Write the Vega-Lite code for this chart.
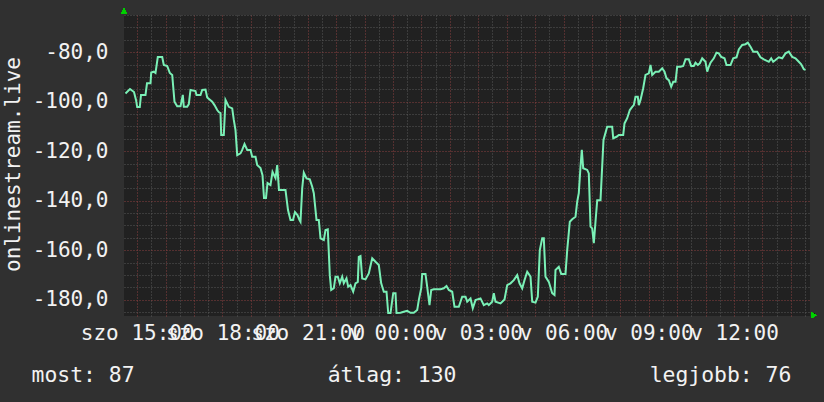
{
  "$schema": "https://vega.github.io/schema/vega-lite/v6.json",
  "width": 686,
  "height": 301,
  "autosize": "none",
  "padding": {"left": 124, "top": 15, "right": 14, "bottom": 86},
  "background": "#303030",
  "view": {"fill": "#212121", "stroke": null},
  "title": {
    "text": "most: 87\u00a0\u00a0\u00a0\u00a0\u00a0\u00a0\u00a0\u00a0\u00a0\u00a0\u00a0\u00a0\u00a0\u00a0\u00a0átlag: 130\u00a0\u00a0\u00a0\u00a0\u00a0\u00a0\u00a0\u00a0\u00a0\u00a0\u00a0\u00a0\u00a0\u00a0\u00a0legjobb: 76",
    "orient": "bottom",
    "anchor": "start",
    "frame": "group",
    "font": "DejaVu Sans Mono",
    "fontSize": 21.4,
    "fontWeight": "normal",
    "color": "#f2f2f2",
    "baseline": "top",
    "dx": -92.5,
    "offset": 22
  },
  "resolve": {"axis": {"x": "independent", "y": "independent"}},
  "data": {"values": [
    {"hour": 14.588, "value": -96.7}, {"hour": 14.747, "value": -94.9}, {"hour": 14.817, "value": -95.5}, {"hour": 14.887, "value": -96.1},
    {"hour": 14.958, "value": -99.3}, {"hour": 15.0, "value": -102.2}, {"hour": 15.091, "value": -102.2}, {"hour": 15.134, "value": -97.3},
    {"hour": 15.292, "value": -97.3}, {"hour": 15.345, "value": -92.6}, {"hour": 15.468, "value": -92.6}, {"hour": 15.493, "value": -88.2},
    {"hour": 15.584, "value": -87.9}, {"hour": 15.644, "value": -88.4}, {"hour": 15.725, "value": -82.0}, {"hour": 15.88, "value": -82.0},
    {"hour": 15.936, "value": -85.2}, {"hour": 16.056, "value": -85.6}, {"hour": 16.147, "value": -88.4}, {"hour": 16.232, "value": -89.2},
    {"hour": 16.312, "value": -100.0}, {"hour": 16.407, "value": -101.9}, {"hour": 16.524, "value": -101.9}, {"hour": 16.605, "value": -97.3},
    {"hour": 16.64, "value": -102.1}, {"hour": 16.759, "value": -102.1}, {"hour": 16.816, "value": -101.0}, {"hour": 16.875, "value": -95.3},
    {"hour": 17.051, "value": -95.7}, {"hour": 17.087, "value": -97.3}, {"hour": 17.227, "value": -97.3}, {"hour": 17.287, "value": -95.3},
    {"hour": 17.403, "value": -95.1}, {"hour": 17.463, "value": -98.3}, {"hour": 17.639, "value": -100.0}, {"hour": 17.72, "value": -101.4},
    {"hour": 17.815, "value": -103.4}, {"hour": 17.871, "value": -104.2}, {"hour": 17.931, "value": -104.6}, {"hour": 17.956, "value": -113.5},
    {"hour": 18.047, "value": -113.5}, {"hour": 18.107, "value": -99.3}, {"hour": 18.167, "value": -100.7}, {"hour": 18.223, "value": -102.1},
    {"hour": 18.343, "value": -102.7}, {"hour": 18.399, "value": -107.4}, {"hour": 18.459, "value": -111.5}, {"hour": 18.519, "value": -121.6},
    {"hour": 18.635, "value": -120.9}, {"hour": 18.695, "value": -119.5}, {"hour": 18.776, "value": -117.1}, {"hour": 18.871, "value": -119.5},
    {"hour": 18.987, "value": -119.5}, {"hour": 19.046, "value": -122.3}, {"hour": 19.163, "value": -122.3}, {"hour": 19.222, "value": -125.6},
    {"hour": 19.338, "value": -126.8}, {"hour": 19.409, "value": -129.7}, {"hour": 19.462, "value": -138.9}, {"hour": 19.532, "value": -138.9},
    {"hour": 19.585, "value": -132.9}, {"hour": 19.69, "value": -133.7}, {"hour": 19.761, "value": -128.4}, {"hour": 19.866, "value": -130.9},
    {"hour": 19.926, "value": -125.6}, {"hour": 19.989, "value": -135.7}, {"hour": 20.218, "value": -135.7}, {"hour": 20.306, "value": -143.8},
    {"hour": 20.394, "value": -147.8}, {"hour": 20.482, "value": -147.8}, {"hour": 20.552, "value": -144.6}, {"hour": 20.64, "value": -145.8},
    {"hour": 20.711, "value": -147.8}, {"hour": 20.746, "value": -148.5}, {"hour": 20.806, "value": -135.0}, {"hour": 20.862, "value": -128.7},
    {"hour": 20.957, "value": -131.0}, {"hour": 21.073, "value": -131.4}, {"hour": 21.158, "value": -134.4}, {"hour": 21.214, "value": -137.0},
    {"hour": 21.309, "value": -147.8}, {"hour": 21.39, "value": -147.8}, {"hour": 21.45, "value": -155.2}, {"hour": 21.566, "value": -155.9},
    {"hour": 21.626, "value": -151.9}, {"hour": 21.706, "value": -151.6}, {"hour": 21.777, "value": -170.1}, {"hour": 21.826, "value": -176.1},
    {"hour": 21.918, "value": -175.4}, {"hour": 21.977, "value": -170.7}, {"hour": 22.058, "value": -170.7}, {"hour": 22.129, "value": -173.4},
    {"hour": 22.213, "value": -170.7}, {"hour": 22.269, "value": -173.4}, {"hour": 22.364, "value": -171.4}, {"hour": 22.424, "value": -174.8},
    {"hour": 22.505, "value": -174.1}, {"hour": 22.6, "value": -176.8}, {"hour": 22.681, "value": -173.4}, {"hour": 22.762, "value": -172.8},
    {"hour": 22.797, "value": -162.7}, {"hour": 22.857, "value": -162.4}, {"hour": 22.917, "value": -171.4}, {"hour": 23.033, "value": -171.8},
    {"hour": 23.149, "value": -169.4}, {"hour": 23.269, "value": -163.3}, {"hour": 23.385, "value": -164.7}, {"hour": 23.501, "value": -166.0},
    {"hour": 23.585, "value": -173.4}, {"hour": 23.677, "value": -176.8}, {"hour": 23.772, "value": -176.8}, {"hour": 23.832, "value": -185.4},
    {"hour": 23.913, "value": -185.4}, {"hour": 24.008, "value": -177.4}, {"hour": 24.089, "value": -177.4}, {"hour": 24.124, "value": -185.4},
    {"hour": 24.265, "value": -185.3}, {"hour": 24.381, "value": -184.9}, {"hour": 24.5, "value": -184.5}, {"hour": 24.616, "value": -185.3},
    {"hour": 24.732, "value": -185.3}, {"hour": 24.852, "value": -184.2}, {"hour": 24.908, "value": -180.2}, {"hour": 24.993, "value": -175.4},
    {"hour": 25.028, "value": -169.6}, {"hour": 25.144, "value": -169.6}, {"hour": 25.204, "value": -174.8}, {"hour": 25.285, "value": -182.2},
    {"hour": 25.345, "value": -176.1}, {"hour": 25.436, "value": -175.8}, {"hour": 25.672, "value": -175.8}, {"hour": 25.788, "value": -175.4},
    {"hour": 25.883, "value": -174.5}, {"hour": 25.964, "value": -176.1}, {"hour": 26.084, "value": -176.8}, {"hour": 26.165, "value": -182.9},
    {"hour": 26.316, "value": -182.9}, {"hour": 26.435, "value": -178.8}, {"hour": 26.552, "value": -178.8}, {"hour": 26.611, "value": -180.8},
    {"hour": 26.728, "value": -179.5}, {"hour": 26.808, "value": -183.5}, {"hour": 26.903, "value": -180.2}, {"hour": 27.079, "value": -179.5},
    {"hour": 27.196, "value": -182.2}, {"hour": 27.315, "value": -181.5}, {"hour": 27.371, "value": -182.2}, {"hour": 27.491, "value": -180.8},
    {"hour": 27.547, "value": -177.4}, {"hour": 27.607, "value": -180.8}, {"hour": 27.783, "value": -181.5}, {"hour": 27.924, "value": -179.9},
    {"hour": 28.019, "value": -174.1}, {"hour": 28.135, "value": -173.4}, {"hour": 28.251, "value": -172.1}, {"hour": 28.371, "value": -170.1},
    {"hour": 28.452, "value": -173.4}, {"hour": 28.547, "value": -175.4}, {"hour": 28.628, "value": -172.1}, {"hour": 28.723, "value": -168.7},
    {"hour": 28.839, "value": -170.7}, {"hour": 28.899, "value": -180.8}, {"hour": 29.015, "value": -181.2}, {"hour": 29.096, "value": -178.8},
    {"hour": 29.166, "value": -160.0}, {"hour": 29.25, "value": -155.2}, {"hour": 29.307, "value": -155.2}, {"hour": 29.366, "value": -170.7},
    {"hour": 29.483, "value": -172.8}, {"hour": 29.602, "value": -177.4}, {"hour": 29.683, "value": -178.1}, {"hour": 29.718, "value": -168.0},
    {"hour": 29.834, "value": -166.7}, {"hour": 29.919, "value": -169.6}, {"hour": 30.07, "value": -169.6}, {"hour": 30.13, "value": -160.0},
    {"hour": 30.222, "value": -148.5}, {"hour": 30.306, "value": -147.5}, {"hour": 30.422, "value": -146.5}, {"hour": 30.482, "value": -140.4},
    {"hour": 30.538, "value": -137.0}, {"hour": 30.598, "value": -126.3}, {"hour": 30.644, "value": -119.5}, {"hour": 30.693, "value": -126.9},
    {"hour": 30.834, "value": -127.6}, {"hour": 30.89, "value": -129.0}, {"hour": 30.95, "value": -150.5}, {"hour": 31.01, "value": -151.2},
    {"hour": 31.066, "value": -157.2}, {"hour": 31.126, "value": -148.5}, {"hour": 31.186, "value": -139.8}, {"hour": 31.302, "value": -139.8},
    {"hour": 31.407, "value": -115.5}, {"hour": 31.537, "value": -110.1}, {"hour": 31.713, "value": -110.1}, {"hour": 31.749, "value": -114.8},
    {"hour": 31.865, "value": -114.2}, {"hour": 31.946, "value": -113.5}, {"hour": 32.1, "value": -113.5}, {"hour": 32.146, "value": -108.8},
    {"hour": 32.241, "value": -106.7}, {"hour": 32.333, "value": -103.4}, {"hour": 32.417, "value": -102.1}, {"hour": 32.473, "value": -101.4},
    {"hour": 32.533, "value": -98.0}, {"hour": 32.614, "value": -98.0}, {"hour": 32.649, "value": -101.4}, {"hour": 32.709, "value": -99.3},
    {"hour": 32.804, "value": -94.6}, {"hour": 32.885, "value": -89.2}, {"hour": 33.001, "value": -88.6}, {"hour": 33.061, "value": -85.2},
    {"hour": 33.121, "value": -89.2}, {"hour": 33.237, "value": -87.9}, {"hour": 33.353, "value": -87.9}, {"hour": 33.473, "value": -86.5},
    {"hour": 33.554, "value": -87.9}, {"hour": 33.624, "value": -90.6}, {"hour": 33.705, "value": -91.3}, {"hour": 33.789, "value": -94.0},
    {"hour": 33.86, "value": -92.0}, {"hour": 33.941, "value": -92.0}, {"hour": 34.0, "value": -85.9}, {"hour": 34.117, "value": -85.9},
    {"hour": 34.212, "value": -85.6}, {"hour": 34.293, "value": -82.9}, {"hour": 34.409, "value": -82.9}, {"hour": 34.493, "value": -85.6},
    {"hour": 34.585, "value": -85.6}, {"hour": 34.644, "value": -84.3}, {"hour": 34.725, "value": -85.2}, {"hour": 34.796, "value": -84.5},
    {"hour": 34.88, "value": -82.5}, {"hour": 34.996, "value": -83.9}, {"hour": 35.056, "value": -87.9}, {"hour": 35.112, "value": -85.9},
    {"hour": 35.172, "value": -84.3}, {"hour": 35.288, "value": -82.5}, {"hour": 35.383, "value": -80.2}, {"hour": 35.464, "value": -80.5},
    {"hour": 35.549, "value": -81.9}, {"hour": 35.665, "value": -82.5}, {"hour": 35.735, "value": -85.2}, {"hour": 35.876, "value": -85.2},
    {"hour": 35.971, "value": -82.5}, {"hour": 36.087, "value": -82.1}, {"hour": 36.168, "value": -78.9}, {"hour": 36.288, "value": -77.1},
    {"hour": 36.404, "value": -76.8}, {"hour": 36.485, "value": -76.2}, {"hour": 36.58, "value": -77.8}, {"hour": 36.675, "value": -79.8},
    {"hour": 36.815, "value": -79.8}, {"hour": 36.931, "value": -82.1}, {"hour": 37.048, "value": -82.9}, {"hour": 37.224, "value": -83.9},
    {"hour": 37.308, "value": -82.5}, {"hour": 37.378, "value": -83.9}, {"hour": 37.459, "value": -83.2}, {"hour": 37.575, "value": -82.1},
    {"hour": 37.695, "value": -82.5}, {"hour": 37.811, "value": -80.5}, {"hour": 37.927, "value": -79.8}, {"hour": 38.047, "value": -81.9},
    {"hour": 38.163, "value": -82.5}, {"hour": 38.279, "value": -83.9}, {"hour": 38.364, "value": -84.9}, {"hour": 38.455, "value": -86.9},
    {"hour": 38.515, "value": -87.2}
  ]},
  "layer": [
    {
      "mark": {"type": "line", "color": "#7af0b6", "strokeWidth": 2, "clip": true},
      "encoding": {
        "x": {
          "field": "hour", "type": "quantitative",
          "scale": {"domain": [14.5356, 38.673], "nice": false, "zero": false},
          "axis": {
            "title": null,
            "values": [15, 15.5, 16, 16.5, 17, 17.5, 18, 18.5, 19, 19.5, 20, 20.5, 21, 21.5, 22, 22.5, 23, 23.5, 24, 24.5, 25, 25.5, 26, 26.5, 27, 27.5, 28, 28.5, 29, 29.5, 30, 30.5, 31, 31.5, 32, 32.5, 33, 33.5, 34, 34.5, 35, 35.5, 36, 36.5, 37, 37.5, 38, 38.5],
            "grid": true,
            "gridDash": [1, 2],
            "gridWidth": 1,
            "gridColor": {"condition": {"test": "datum.value % 1 === 0", "value": "#8a4040"}, "value": "#585858"},
            "labelExpr": "datum.value % 3 === 0 ? ((datum.value < 24 ? 'szo ' : 'v ') + ((datum.value % 24) < 10 ? '0' : '') + (datum.value % 24) + ':00') : ''",
            "labelOverlap": false,
            "labelFlush": false,
            "labelBound": false,
            "ticks": false,
            "domain": false,
            "labelFont": "DejaVu Sans Mono",
            "labelFontSize": 21,
            "labelColor": "#f2f2f2",
            "labelPadding": 6
          }
        },
        "y": {
          "field": "value", "type": "quantitative",
          "scale": {"domain": [-186.6, -65], "nice": false, "zero": false},
          "axis": {
            "title": "onlinestream.live",
            "values": [-185, -180, -175, -170, -165, -160, -155, -150, -145, -140, -135, -130, -125, -120, -115, -110, -105, -100, -95, -90, -85, -80, -75, -70, -65],
            "grid": true,
            "gridDash": [1, 2],
            "gridWidth": 1,
            "gridColor": {"condition": {"test": "datum.value % 20 === 0", "value": "#8a4040"}, "value": "#585858"},
            "labelExpr": "datum.value % 20 === 0 ? '-' + replace(format(abs(datum.value), '.1f'), '.', ',') : ''",
            "labelOverlap": false,
            "labelFlush": false,
            "labelBound": false,
            "ticks": false,
            "domain": false,
            "labelFont": "DejaVu Sans Mono",
            "labelFontSize": 21,
            "labelColor": "#f2f2f2",
            "labelPadding": 16,
            "titleFont": "DejaVu Sans Mono",
            "titleFontSize": 21,
            "titleFontWeight": "normal",
            "titleColor": "#f2f2f2",
            "titleAngle": 270,
            "titleAlign": "center",
            "titleBaseline": "alphabetic",
            "titleX": -105,
            "titleY": 149
          }
        }
      }
    },
    {
      "mark": {"type": "point", "shape": "triangle-up", "filled": true, "color": "#00d000", "opacity": 1, "size": 30, "clip": false},
      "encoding": {
        "x": {"datum": 14.5356, "type": "quantitative", "axis": null},
        "y": {"datum": -63.3, "type": "quantitative", "axis": null}
      }
    },
    {
      "mark": {"type": "point", "shape": "triangle-right", "filled": true, "color": "#00d000", "opacity": 1, "size": 30, "clip": false},
      "encoding": {
        "x": {"datum": 38.81, "type": "quantitative", "axis": null},
        "y": {"datum": -186.3, "type": "quantitative", "axis": null}
      }
    }
  ]
}
